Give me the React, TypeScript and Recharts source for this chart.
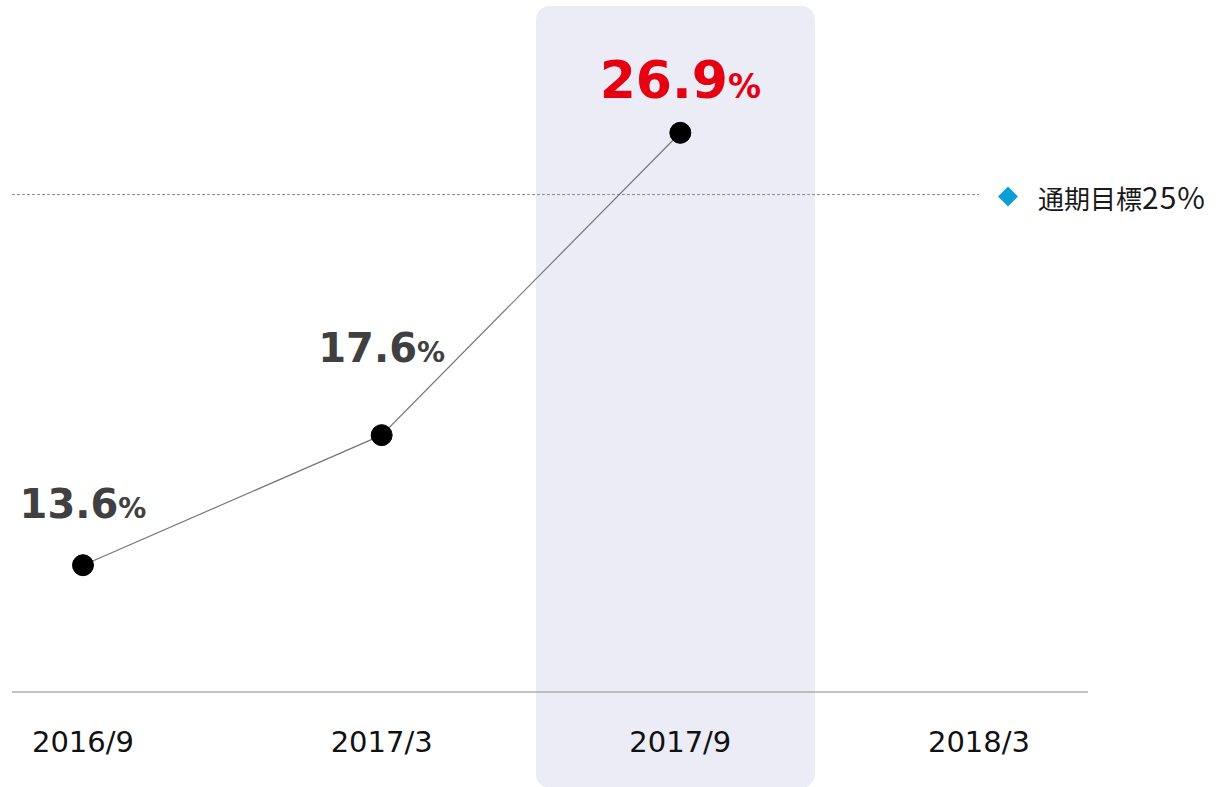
import { LineChart, Line, XAxis, YAxis, ReferenceArea, ReferenceLine, LabelList } from "recharts";

const PERIODS = ["2016/9", "2017/3", "2017/9", "2018/3"];
const RATES = [13.6, 17.6, 26.9];
const TARGET = 25;
const TARGET_LABEL = "通期目標";
const HIGHLIGHT = 2;

// styling
const LIFT = [47, 73, 35];
const RED = "#E50012";
const DARK = "#404040";

const rows = PERIODS.map((period, i) => ({
  idx: i,
  period,
  rate: i < RATES.length ? RATES[i] : null,
}));

const PeriodTick = ({ x, y, payload }: any) => (
  <text x={x} y={y + 52} textAnchor="middle" fontFamily="DejaVu Sans" fontSize={29} fill="#111">
    {PERIODS[payload.value]}
  </text>
);

const RateLabel = ({ x, y, value }: any) => {
  if (value == null) return null;
  const i = RATES.indexOf(value);
  const hi = i === HIGHLIGHT;
  return (
    <text x={x} y={y - LIFT[i]} textAnchor="middle" fontFamily="DejaVu Sans" fontWeight="bold" fill={hi ? RED : DARK}>
      <tspan fontSize={hi ? 52 : 40}>{value.toFixed(1)}</tspan>
      <tspan fontSize={hi ? 33 : 28}>%</tspan>
    </text>
  );
};

const TargetLabel = ({ viewBox }: any) => {
  const { x, y, width } = viewBox;
  const cx = x + width + 29;
  const cy = y + 2;
  return (
    <g>
      <path d={`M${cx} ${cy - 10}L${cx + 10} ${cy}L${cx} ${cy + 10}L${cx - 10} ${cy}Z`} fill="#0E9ED6" />
      <text x={cx + 30} y={y + 14} fontFamily="Noto Sans CJK JP" fill="#1a1a1a">
        <tspan fontSize={26}>{TARGET_LABEL}</tspan>
        <tspan fontSize={30} letterSpacing={1}>{TARGET}%</tspan>
      </text>
    </g>
  );
};

export default function App() {
  return (
    <div style={{ position: "absolute", left: 0, top: 0 }}>
      <LineChart width={1226} height={787} data={rows} margin={{ top: 32, right: 138, bottom: 0, left: 12 }}>
        <ReferenceArea
          x1={1.5167}
          x2={2.451}
          y1={6.75}
          y2={30.8}
          ifOverflow="visible"
          shape={(p: any) => <rect x={p.x} y={p.y} width={p.width} height={p.height} rx={14} fill="#ECECF6" />}
        />
        <XAxis
          type="number"
          dataKey="idx"
          domain={[-0.2377, 3.365]}
          ticks={[0, 1, 2, 3]}
          tick={<PeriodTick />}
          tickLine={false}
          axisLine={{ stroke: "#888" }}
          height={95}
          interval={0}
        />
        <YAxis hide domain={[9.7, 30]} allowDataOverflow />
        <ReferenceLine
          segment={[
            { x: -0.2377, y: TARGET },
            { x: 3, y: TARGET },
          ]}
          stroke="#8c8c8c"
          strokeDasharray="3 2"
          label={<TargetLabel />}
        />
        <Line
          dataKey="rate"
          type="linear"
          stroke="#777"
          strokeWidth={1.2}
          dot={{ r: 10.5, fill: "#000", stroke: "#000", strokeWidth: 1 }}
          isAnimationActive={false}
        >
          <LabelList dataKey="rate" content={<RateLabel />} />
        </Line>
      </LineChart>
    </div>
  );
}
